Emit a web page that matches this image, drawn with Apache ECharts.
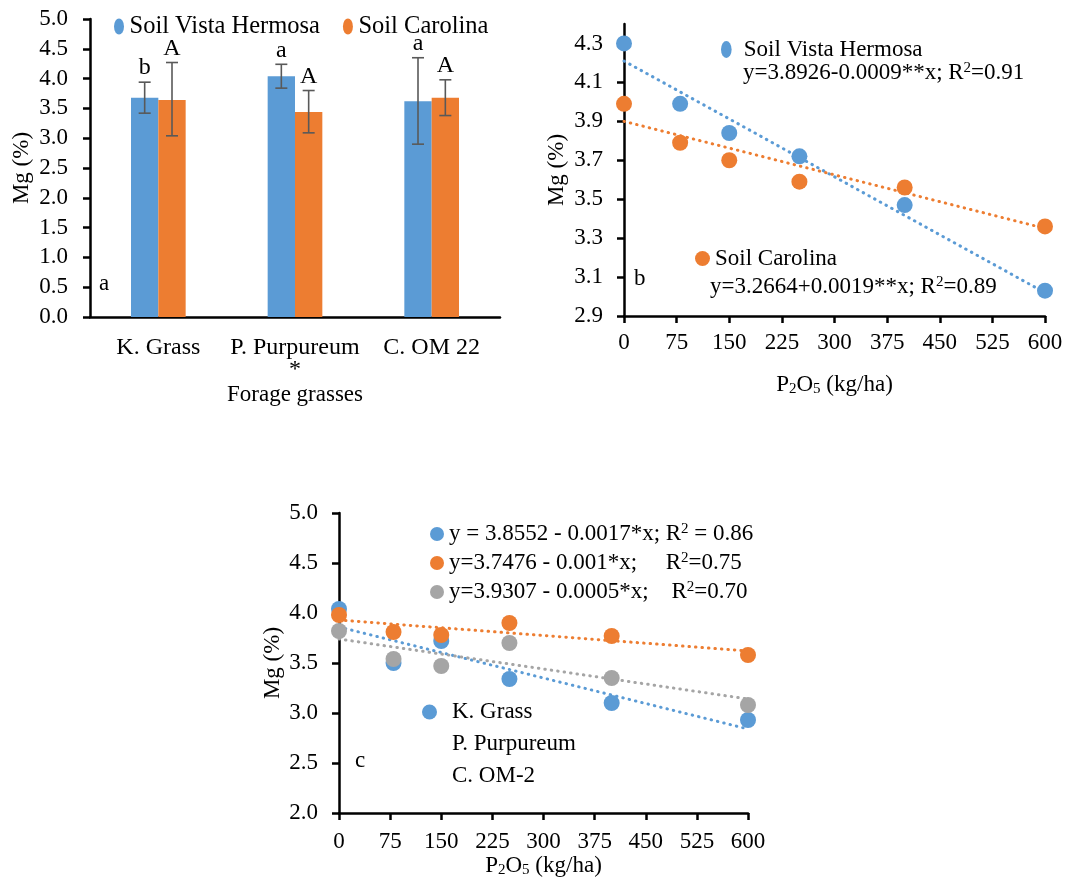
<!DOCTYPE html>
<html>
<head>
<meta charset="utf-8">
<script src="https://cdn.jsdelivr.net/npm/echarts@6/dist/echarts.min.js"></script>
<style>
html, body { margin: 0; padding: 0; background: #fff; }
#main { width: 1091px; height: 879px; }
</style>
</head>
<body>
<div id="main"></div>
<script>
var FONT = '"Liberation Serif", "Times New Roman", serif';
var BLUE = '#5B9BD5', ORANGE = '#ED7D31', GRAY = '#A5A5A5';

// panel a - forage grasses, bars + error bars
var grasses = ['K. Grass', 'P. Purpureum\n*', 'C. OM 22'];
var mgVista = [3.68, 4.04, 3.62];
var mgCarolina = [3.64, 3.44, 3.68];
var errVistaLow = [3.42, 3.84, 2.90];
var errVistaHigh = [3.94, 4.24, 4.35];
var errCarolinaLow = [3.04, 3.09, 3.38];
var errCarolinaHigh = [4.27, 3.80, 3.98];
var lettersVista = ['b', 'a', 'a'];
var lettersCarolina = ['A', 'A', 'A'];

// panel b - soils vs P2O5 dose
var doseB = [0, 80, 150, 250, 400, 600];
var vistaB = [4.30, 3.99, 3.84, 3.72, 3.47, 3.03];
var carolinaB = [3.99, 3.79, 3.70, 3.59, 3.56, 3.36];
var trendVistaB = [[0, 4.21], [600, 3.02]];
var trendCarolinaB = [[0, 3.90], [600, 3.35]];
var yTicksB = [2.9, 3.1, 3.3, 3.5, 3.7, 3.9, 4.1, 4.3];

// panel c - grasses vs P2O5 dose
var doseC = [0, 80, 150, 250, 400, 600];
var kGrassC = [4.04, 3.50, 3.72, 3.34, 3.10, 2.93];
var purpureumC = [3.98, 3.81, 3.78, 3.90, 3.77, 3.58];
var om2C = [3.82, 3.54, 3.47, 3.70, 3.35, 3.08];
var trendKGrassC = [[0, 3.86], [600, 2.84]];
var trendPurpureumC = [[0, 3.93], [600, 3.62]];
var trendOm2C = [[0, 3.74], [600, 3.14]];

var equationsC = {
  'K. Grass': 'y = 3.8552 - 0.0017*x; R{sup|2} = 0.86',
  'P. Purpureum': 'y=3.7476 - 0.001*x;     R{sup|2}=0.75',
  'C. OM-2': 'y=3.9307 - 0.0005*x;    R{sup|2}=0.70'
};

var chart = echarts.init(document.getElementById('main'));

var richText = {
  sub: { fontFamily: FONT, fontSize: 15, lineHeight: 8, verticalAlign: 'bottom', color: '#000' },
  sup: { fontFamily: FONT, fontSize: 15, lineHeight: 16, verticalAlign: 'top', color: '#000' }
};

function pairs(xs, ys) {
  return xs.map(function (x, i) { return [x, ys[i]]; });
}

function fixed1(v) { return v.toFixed(1); }

// axis look shared by every panel (black Excel style axes)
function axisLine() { return { show: true, onZero: false, lineStyle: { color: '#000', width: 2.5 } }; }
function axisTick() { return { show: true, inside: false, length: 7, lineStyle: { color: '#000', width: 2.5 } }; }
function nameStyle() {
  return { color: '#000', fontFamily: FONT, fontSize: 23, lineHeight: 24, rich: richText };
}

function errorBars(side, letters) {
  return function (params, api) {
    var cat = api.value(0);
    var top = api.coord([cat, api.value(2)]);
    var bot = api.coord([cat, api.value(1)]);
    var band = api.size([1, 0])[0];
    var x = top[0] + side * band * 0.1;
    var cap = 6;
    var st = { stroke: '#595959', lineWidth: 1.6 };
    return {
      type: 'group',
      children: [
        { type: 'line', shape: { x1: x, y1: top[1], x2: x, y2: bot[1] }, style: st },
        { type: 'line', shape: { x1: x - cap, y1: top[1], x2: x + cap, y2: top[1] }, style: st },
        { type: 'line', shape: { x1: x - cap, y1: bot[1], x2: x + cap, y2: bot[1] }, style: st },
        {
          type: 'text',
          style: {
            text: letters[params.dataIndex], x: x, y: top[1] - 2,
            align: 'center', verticalAlign: 'bottom',
            fontFamily: FONT, fontSize: 24, fill: '#000'
          }
        }
      ]
    };
  };
}

// Excel style round-dot trendline
function trend(name, data, color, xi) {
  return {
    name: name, type: 'line', xAxisIndex: xi, yAxisIndex: xi,
    data: data, symbol: 'none', silent: true, z: 2,
    lineStyle: { color: color, width: 3, type: [0.5, 6], cap: 'round' }
  };
}

function dots(name, data, color, xi) {
  return {
    name: name, type: 'scatter', xAxisIndex: xi, yAxisIndex: xi,
    data: data, symbol: 'circle', symbolSize: 16, z: 3,
    itemStyle: { color: color, opacity: 1 }
  };
}

var ellipse = 'path://M5,0 A5,8 0 1,1 5,16 A5,8 0 1,1 5,0 Z';

var option = {
  backgroundColor: '#fff',
  animation: false,
  textStyle: { fontFamily: FONT, color: '#000' },

  grid: [
    { left: 90, top: 19, width: 410, height: 298 },
    { left: 624, top: 24, width: 421, height: 292 },
    { left: 339, top: 513, width: 409, height: 300 }
  ],

  legend: [
    {
      data: ['Soil Vista Hermosa', 'Soil Carolina'],
      left: 109, top: 9, itemGap: 23, itemWidth: 11, itemHeight: 16, icon: ellipse,
      textStyle: { fontFamily: FONT, fontSize: 24.5, color: '#000' }
    },
    {
      data: ['Soil Vista Hermosa'],
      left: 716, top: 33, itemWidth: 11, itemHeight: 17, icon: ellipse,
      textStyle: { fontFamily: FONT, fontSize: 23, color: '#000', padding: [0, 0, 0, 7] }
    },
    {
      data: ['Soil Carolina'],
      left: 690, top: 242, itemWidth: 15, itemHeight: 15, icon: 'circle',
      textStyle: { fontFamily: FONT, fontSize: 23, color: '#000' }
    },
    {
      data: ['K. Grass', 'P. Purpureum', 'C. OM-2'],
      orient: 'vertical', left: 425, top: 517, itemGap: 5,
      itemWidth: 14, itemHeight: 15, icon: 'circle',
      formatter: function (name) { return equationsC[name]; },
      textStyle: { fontFamily: FONT, fontSize: 23, lineHeight: 24, color: '#000', rich: richText }
    },
    {
      data: [
        { name: 'K. Grass' },
        { name: 'P. Purpureum', itemStyle: { opacity: 0 } },
        { name: 'C. OM-2', itemStyle: { opacity: 0 } }
      ],
      orient: 'vertical', left: 417, top: 695, itemGap: 8,
      itemWidth: 15, itemHeight: 15, icon: 'circle',
      textStyle: { fontFamily: FONT, fontSize: 23, lineHeight: 24, color: '#000', padding: [0, 0, 0, 10] }
    }
  ],

  xAxis: [
    {
      gridIndex: 0, type: 'category', data: grasses,
      name: 'Forage grasses', nameLocation: 'middle', nameGap: 66, nameTextStyle: nameStyle(),
      axisLine: axisLine(), axisTick: { show: false },
      axisLabel: { color: '#000', fontFamily: FONT, fontSize: 24, lineHeight: 22, margin: 20, interval: 0 }
    },
    {
      gridIndex: 1, type: 'value', min: 0, max: 600, interval: 75,
      name: 'P{sub|2}O{sub|5} (kg/ha)', nameLocation: 'middle', nameGap: 57, nameTextStyle: nameStyle(),
      axisLine: axisLine(), axisTick: axisTick(), splitLine: { show: false },
      axisLabel: { color: '#000', fontFamily: FONT, fontSize: 23, margin: 15 }
    },
    {
      gridIndex: 2, type: 'value', min: 0, max: 600, interval: 75,
      name: 'P{sub|2}O{sub|5} (kg/ha)', nameLocation: 'middle', nameGap: 39, nameTextStyle: nameStyle(),
      axisLine: axisLine(), axisTick: axisTick(), splitLine: { show: false },
      axisLabel: { color: '#000', fontFamily: FONT, fontSize: 23, margin: 17 }
    }
  ],

  yAxis: [
    {
      gridIndex: 0, type: 'value', min: 0, max: 5, interval: 0.5,
      name: 'Mg (%)', nameLocation: 'middle', nameGap: 56, nameTextStyle: nameStyle(),
      axisLine: axisLine(), axisTick: axisTick(), splitLine: { show: false },
      axisLabel: { color: '#000', fontFamily: FONT, fontSize: 23, margin: 22, formatter: fixed1 }
    },
    {
      gridIndex: 1, type: 'value', min: 2.9, max: 4.4,
      name: 'Mg (%)', nameLocation: 'middle', nameGap: 55, nameTextStyle: nameStyle(),
      axisLine: axisLine(),
      axisTick: { show: true, length: 7, customValues: yTicksB, lineStyle: { color: '#000', width: 2.5 } },
      splitLine: { show: false },
      axisLabel: { color: '#000', fontFamily: FONT, fontSize: 23, margin: 21, customValues: yTicksB, formatter: fixed1 }
    },
    {
      gridIndex: 2, type: 'value', min: 2, max: 5, interval: 0.5,
      name: 'Mg (%)', nameLocation: 'middle', nameGap: 52, nameTextStyle: nameStyle(),
      axisLine: axisLine(), axisTick: axisTick(), splitLine: { show: false },
      axisLabel: { color: '#000', fontFamily: FONT, fontSize: 23, margin: 21, formatter: fixed1 }
    }
  ],

  graphic: [
    { type: 'text', left: 99, top: 272, style: { text: 'a', fontFamily: FONT, fontSize: 23, fill: '#000' } },
    { type: 'text', left: 634, top: 267, style: { text: 'b', fontFamily: FONT, fontSize: 23, fill: '#000' } },
    { type: 'text', left: 355, top: 749, style: { text: 'c', fontFamily: FONT, fontSize: 23, fill: '#000' } },
    {
      type: 'text', left: 743, top: 61,
      style: { text: 'y=3.8926-0.0009**x; R{sup|2}=0.91', fontFamily: FONT, fontSize: 23, lineHeight: 24, fill: '#000', rich: richText }
    },
    {
      type: 'text', left: 710, top: 275,
      style: { text: 'y=3.2664+0.0019**x; R{sup|2}=0.89', fontFamily: FONT, fontSize: 23, lineHeight: 24, fill: '#000', rich: richText }
    }
  ],

  series: [
    {
      name: 'Soil Vista Hermosa', type: 'bar', xAxisIndex: 0, yAxisIndex: 0,
      data: mgVista, barGap: 0, barCategoryGap: '60%', itemStyle: { color: BLUE }
    },
    {
      name: 'Soil Carolina', type: 'bar', xAxisIndex: 0, yAxisIndex: 0,
      data: mgCarolina, barGap: 0, barCategoryGap: '60%', itemStyle: { color: ORANGE }
    },
    {
      name: 'Vista error', type: 'custom', xAxisIndex: 0, yAxisIndex: 0, z: 4,
      renderItem: errorBars(-1, lettersVista),
      data: grasses.map(function (g, i) { return [i, errVistaLow[i], errVistaHigh[i]]; })
    },
    {
      name: 'Carolina error', type: 'custom', xAxisIndex: 0, yAxisIndex: 0, z: 4,
      renderItem: errorBars(1, lettersCarolina),
      data: grasses.map(function (g, i) { return [i, errCarolinaLow[i], errCarolinaHigh[i]]; })
    },

    trend('Vista trend', trendVistaB, BLUE, 1),
    trend('Carolina trend', trendCarolinaB, ORANGE, 1),
    dots('Soil Vista Hermosa', pairs(doseB, vistaB), BLUE, 1),
    dots('Soil Carolina', pairs(doseB, carolinaB), ORANGE, 1),

    trend('K. Grass trend', trendKGrassC, BLUE, 2),
    trend('P. Purpureum trend', trendPurpureumC, ORANGE, 2),
    trend('C. OM-2 trend', trendOm2C, GRAY, 2),
    dots('K. Grass', pairs(doseC, kGrassC), BLUE, 2),
    dots('P. Purpureum', pairs(doseC, purpureumC), ORANGE, 2),
    dots('C. OM-2', pairs(doseC, om2C), GRAY, 2)
  ]
};

chart.setOption(option);
</script>
</body>
</html>
